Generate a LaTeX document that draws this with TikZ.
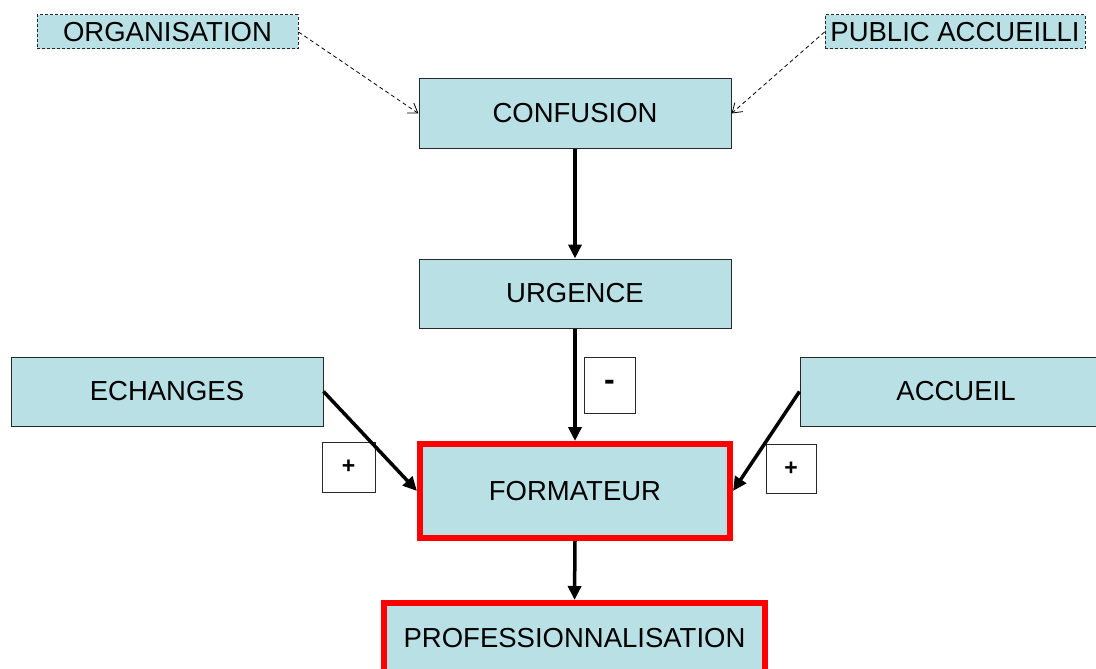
\documentclass[tikz,border=0pt]{standalone}
\usepackage{fontspec}
\setmainfont{Liberation Sans}
\usetikzlibrary{arrows.meta}
\definecolor{boxfill}{RGB}{185,224,228}
\definecolor{boxline}{RGB}{40,40,40}
\tikzset{
  box/.style={draw=boxline, line width=1pt, fill=boxfill, inner sep=0pt, font=\fontsize{27.5}{30}\selectfont},
  dbox/.style={box, dashed, dash pattern=on 3pt off 2pt},
  redbox/.style={box, draw=red, line width=6pt},
  signbox/.style={draw=boxline, line width=0.8pt, fill=white, inner sep=0pt, font=\bfseries\fontsize{23}{26}\selectfont},
  flow/.style={line width=3.5pt, -{Triangle[length=14pt,width=13pt]}},
  dflow/.style={line width=0.8pt, dashed, dash pattern=on 4pt off 3pt, -{Straight Barb[length=9pt,width=12pt]}},
}
\begin{document}
\begin{tikzpicture}[x=1pt,y=-1pt]
\clip (0,0) rectangle (1096,669);
\fill[white] (0,0) rectangle (1096,669);
\node[dbox, minimum width=261pt, minimum height=34pt] (org) at (167.5,32) {ORGANISATION};
\node[dbox, minimum width=260pt, minimum height=34pt] (pub) at (955,32) {PUBLIC ACCUEILLI};
\node[box, minimum width=312pt, minimum height=69pt] (conf) at (575,113.5) {CONFUSION};
\node[box, minimum width=312pt, minimum height=69pt] (urg) at (575,293.5) {URGENCE};
\node[box, minimum width=312pt, minimum height=69pt] (ech) at (167,391.5) {ECHANGES};
\node[box, minimum width=312pt, minimum height=69pt] (acc) at (956,391.5) {ACCUEIL};
\node[redbox, minimum width=310pt, minimum height=94pt] (form) at (575,491) {FORMATEUR};
\node[redbox, minimum width=381pt, minimum height=70pt] (prof) at (574.5,638) {PROFESSIONNALISATION};
\node[signbox, minimum width=51pt, minimum height=56pt, font=\bfseries\fontsize{32}{34}\selectfont] (minus) at (609.5,385) {-};
\node[signbox, minimum width=53pt, minimum height=50pt] (plusl) at (348.5,467) {+};
\node[signbox, minimum width=50pt, minimum height=49pt] (plusr) at (791,468.5) {+};
\draw[dflow] (org.east) -- (conf.west);
\draw[dflow] (pub.west) -- (conf.east);
\draw[flow] (conf.south) -- (urg.north);
\draw[flow] (urg.south) -- (form.north);
\draw[flow] (ech.east) -- (form.west);
\draw[flow] (acc.west) -- (form.east);
\draw[flow] (form.south) -- (prof.north);
\end{tikzpicture}
\end{document}
